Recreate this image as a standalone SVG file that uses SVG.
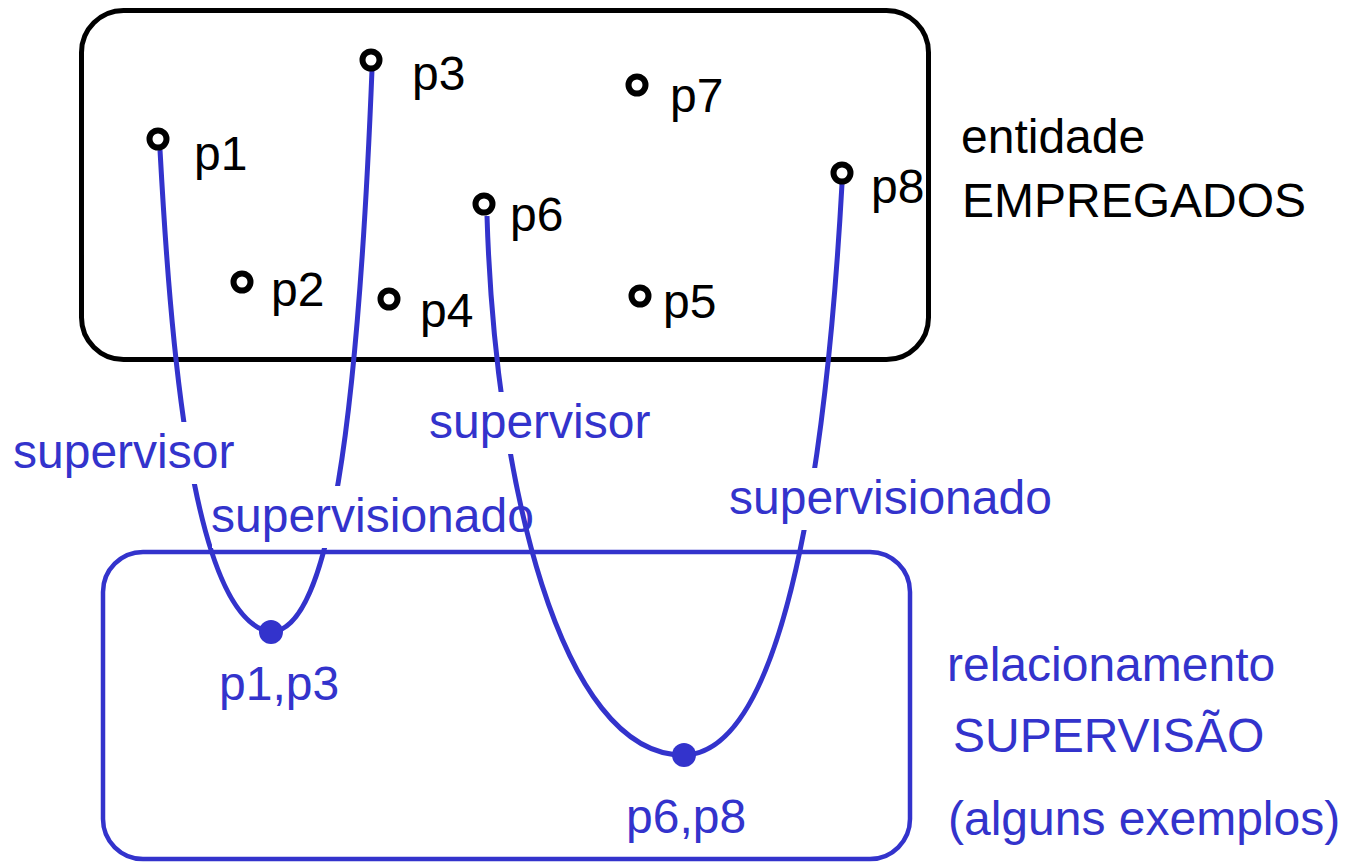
<svg xmlns="http://www.w3.org/2000/svg" width="1350" height="864" viewBox="0 0 1350 864">
<style>
.blk{font-family:"Liberation Sans",Arial,sans-serif;font-size:48px;fill:#000}
.blu{font-family:"Liberation Sans",Arial,sans-serif;font-size:48px;fill:#3333cc}
.pt{fill:#fff;stroke:#000;stroke-width:6}
.con{fill:none;stroke:#3333cc;stroke-width:5}
.bg{fill:#fff}
</style>
<rect width="1350" height="864" fill="#fff"/>
<g id="empregados">
<rect x="81.5" y="10.5" width="847" height="349" rx="42" fill="none" stroke="#000" stroke-width="5"/>
<text class="blk" x="961" y="153">entidade</text>
<text class="blk" x="962" y="217">EMPREGADOS</text>
</g>
<g id="supervisao">
<rect x="103" y="552" width="807" height="307" rx="40" fill="none" stroke="#3333cc" stroke-width="4.5"/>
<text class="blu" x="947" y="681">relacionamento</text>
<text class="blu" x="953" y="752">SUPERVISÃO</text>
<text class="blu" x="948" y="835">(alguns exemplos)</text>
</g>
<g id="connectors">
<path class="con" d="M160,150 C170,330 190,620 271,632"/>
<path class="con" d="M271,632 C330,630 358,420 372,70"/>
<rect class="bg" x="10" y="422" width="226" height="62"/>
<text class="blu" x="13" y="468">supervisor</text>
<rect class="bg" x="212" y="486" width="322" height="62"/>
<text class="blu" x="211" y="532">supervisionado</text>
<path class="con" d="M487,216 C495,480 560,755 683,755"/>
<path class="con" d="M683,755 C795,755 830,400 842,184"/>
<rect class="bg" x="426" y="392" width="226" height="62"/>
<text class="blu" x="429" y="438">supervisor</text>
<rect class="bg" x="726" y="468" width="330" height="62"/>
<text class="blu" x="729" y="514">supervisionado</text>
</g>
<g id="p1"><circle class="pt" cx="158" cy="139" r="8.5"/><text class="blk" x="194" y="170">p1</text></g>
<g id="p2"><circle class="pt" cx="242" cy="282" r="8.5"/><text class="blk" x="271" y="306">p2</text></g>
<g id="p3"><circle class="pt" cx="371" cy="60" r="8.5"/><text class="blk" x="412" y="90">p3</text></g>
<g id="p4"><circle class="pt" cx="389" cy="299" r="8.5"/><text class="blk" x="420" y="327">p4</text></g>
<g id="p5"><circle class="pt" cx="640" cy="296" r="8.5"/><text class="blk" x="663" y="318">p5</text></g>
<g id="p6"><circle class="pt" cx="484" cy="204" r="8.5"/><text class="blk" x="510" y="231">p6</text></g>
<g id="p7"><circle class="pt" cx="637" cy="85" r="8.5"/><text class="blk" x="670" y="112">p7</text></g>
<g id="p8"><circle class="pt" cx="842" cy="173" r="8.5"/><text class="blk" x="871" y="203">p8</text></g>
<g id="p1p3"><circle cx="271" cy="632" r="12" fill="#3333cc"/><text class="blu" x="219" y="700">p1,p3</text></g>
<g id="p6p8"><circle cx="684" cy="755" r="12" fill="#3333cc"/><text class="blu" x="626" y="833">p6,p8</text></g>
</svg>
